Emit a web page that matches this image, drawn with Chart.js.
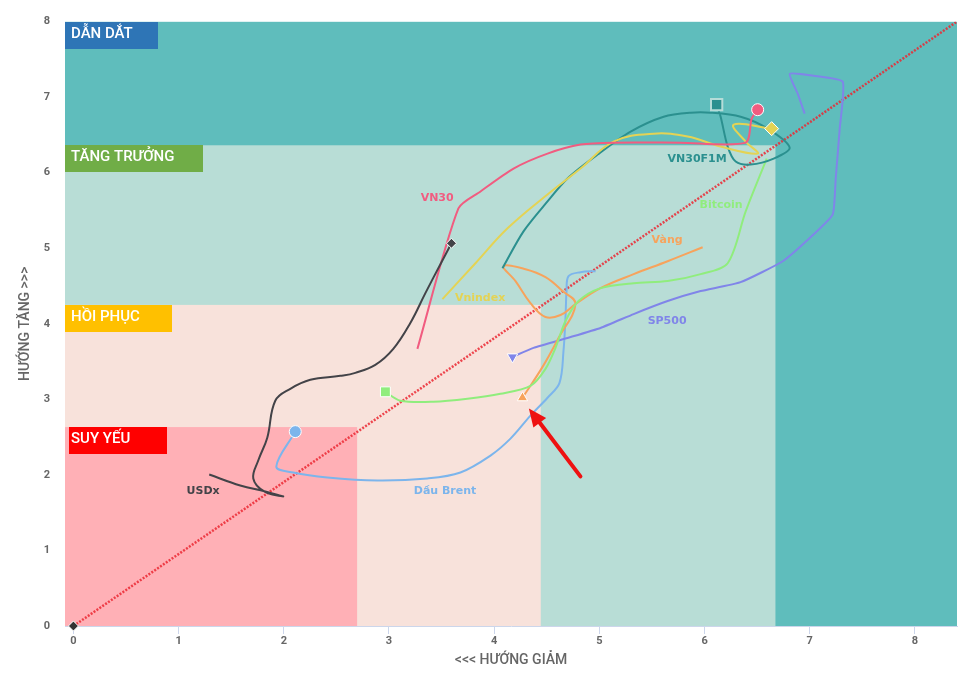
<!DOCTYPE html>
<html><head><meta charset="utf-8">
<script src="https://cdn.jsdelivr.net/npm/chart.js@4/dist/chart.umd.min.js"></script>
<style>html,body{margin:0;padding:0;background:#fff;}</style>
</head><body>
<canvas id="c" width="971" height="679" style="display:block;width:971px;height:679px"></canvas>
<script>
// ---- tick labels ----
const xTicks = [0,1,2,3,4,5,6,7,8];
const yTicks = [0,1,2,3,4,5,6,7,8];

// ---- zone thresholds (data units) ----
const zoneNames = ['DẪN DẮT','TĂNG TRƯỞNG','HỒI PHỤC','SUY YẾU'];
const zoneMaxX = [8.4, 6.674, 4.443, 2.697];
const zoneMaxY = [8, 6.363, 4.25, 2.633];

// ---- series ----
const seriesNames = ['USDx','VN30','Vnindex','VN30F1M','Bitcoin','Vàng','SP500','Dầu Brent'];

const usdxX = [1.291,1.586,1.824,1.995,1.814,1.710,1.757,1.843,1.919,2.062,2.252,2.537,2.680,2.870,3.041,3.203,3.346,3.489,3.594];
const usdxY = [2.005,1.860,1.781,1.715,1.781,1.953,2.190,2.493,2.982,3.140,3.259,3.311,3.351,3.456,3.668,4.011,4.406,4.789,5.066];

const vn30X = [3.270,3.660,3.870,4.184,4.507,4.821,5.135,5.772,6.391,6.448,6.505];
const vn30Y = [3.668,5.528,5.752,6.055,6.253,6.372,6.398,6.398,6.398,6.715,6.834];

const vnindexX = [3.508,3.822,4.127,4.507,4.821,5.135,5.516,5.839,6.153,6.505,6.391,6.277,6.638];
const vnindexY = [4.327,4.802,5.264,5.712,6.055,6.412,6.517,6.478,6.346,6.253,6.412,6.636,6.583];

const vn30f1mX = [4.079,4.279,4.507,4.697,4.983,5.297,5.611,5.868,6.058,6.343,6.600,6.809,6.657,6.438,6.296,6.220,6.153,6.115];
const vn30f1mY = [4.736,5.224,5.620,5.923,6.240,6.544,6.741,6.794,6.794,6.741,6.583,6.332,6.187,6.108,6.148,6.346,6.741,6.900];

const bitcoinX = [6.591,6.391,6.220,5.963,5.649,5.326,5.011,4.802,4.678,4.583,4.488,4.345,4.060,3.746,3.422,3.108,2.966];
const bitcoinY = [6.187,5.488,4.802,4.657,4.565,4.538,4.472,4.301,4.037,3.681,3.404,3.179,3.074,3.008,2.968,2.982,3.100];

const vangX = [5.982,5.649,5.326,5.011,4.773,4.631,4.488,4.345,4.203,4.089,4.298,4.488,4.650,4.773,4.612,4.460,4.269];
const vangY = [5.013,4.828,4.657,4.472,4.261,4.116,4.090,4.274,4.565,4.763,4.723,4.617,4.433,4.261,3.813,3.430,3.021];

const sp500X = [6.952,6.886,6.810,7.038,7.314,7.285,7.247,7.219,7.038,6.743,6.343,5.963,5.649,5.326,5.011,4.697,4.374,4.174];
const sp500Y = [6.781,7.045,7.309,7.282,7.203,6.583,5.923,5.449,5.185,4.828,4.551,4.433,4.301,4.129,3.945,3.813,3.681,3.562];

const brentX = [4.964,4.821,4.707,4.688,4.678,4.659,4.621,4.507,4.345,4.155,3.965,3.679,3.365,2.890,2.414,2.090,1.929,2.109];
const brentY = [4.697,4.683,4.631,4.433,4.077,3.641,3.219,3.021,2.784,2.480,2.256,2.032,1.953,1.926,1.966,2.032,2.111,2.573];

const diagX = [0, 8.4];
const diagY = [0, 8];

// ---- styling ----
const seriesColors = ['#434348','#f15c80','#e4d354','#2b908f','#90ed7d','#f7a35c','#8085e9','#7cb5ec'];
const seriesTension = [0.4,0.25,0.4,0.3,0.3,0.4,0.15,0.35];
const markerStyle = [
  {style:'rectRot', r:5, rot:0, border:'#ffffff', bw:1},
  {style:'circle', r:6, rot:0, border:'#ffffff', bw:1},
  {style:'rectRot', r:7, rot:0, border:'#ffffff', bw:1},
  {style:'rect', r:8, rot:0, border:'#b5dcd8', bw:2},
  {style:'rect', r:7, rot:0, border:'#ffffff', bw:1},
  {style:'triangle', r:6, rot:0, border:'#ffffff', bw:1},
  {style:'triangle', r:6, rot:180, border:'#ffffff', bw:1},
  {style:'circle', r:6, rot:0, border:'#ffffff', bw:1}
];
const labelPos = [
  {x:1.233,y:1.783},{x:3.458,y:5.667},{x:3.866,y:4.346},{x:5.929,y:6.182},
  {x:6.157,y:5.575},{x:5.644,y:5.112},{x:5.644,y:4.029},{x:3.533,y:1.783}
];
const zoneFill = ['#5fbdbc','#b8ddd6','#f8e2db','#ffb0b6'];
const zoneBoxColor = ['#2e75b6','#70ad47','#ffc000','#ff0000'];
const zoneBoxW = [93,138,107,98];
const zoneBoxDx = [0,0,0,4];
const arrowFrom = {x:4.82, y:1.98};
const arrowTo = {x:4.33, y:2.88};

const seriesX = [usdxX,vn30X,vnindexX,vn30f1mX,bitcoinX,vangX,sp500X,brentX];
const seriesY = [usdxY,vn30Y,vnindexY,vn30f1mY,bitcoinY,vangY,sp500Y,brentY];

const zip = (xs, ys) => xs.map((x,i)=>({x:x, y:ys[i]}));

const datasets = [];
datasets.push({
  label:'diag', data: zip(diagX, diagY), showLine:true, borderColor:'rgba(235,40,50,0.85)',
  borderWidth:2.5, borderDash:[2,1.5], pointRadius:0, tension:0, order:10
});
seriesNames.forEach((name,i)=>{
  const m = markerStyle[i];
  datasets.push({
    label:name, data: zip(seriesX[i], seriesY[i]), showLine:true,
    borderColor: seriesColors[i], backgroundColor: seriesColors[i], borderWidth:2, tension:seriesTension[i],
    pointStyle: m.style, rotation: m.rot,
    pointRadius: (ctx)=> ctx.dataIndex === ctx.dataset.data.length-1 ? m.r : 0,
    pointHoverRadius: (ctx)=> ctx.dataIndex === ctx.dataset.data.length-1 ? m.r : 0,
    pointBorderColor: m.border, pointBorderWidth: m.bw,
    pointBackgroundColor: seriesColors[i]
  });
});
datasets.push({
  label:'origin', data:[{x:0,y:0}], pointStyle:'rectRot', pointRadius:5, pointBackgroundColor:'#333',
  pointBorderColor:'#fff', pointBorderWidth:1, clip:false
});

const zonePlugin = {
  id:'zones',
  beforeDraw(chart){
    const {ctx, chartArea:a, scales:{x,y}} = chart;
    ctx.save();
    ctx.beginPath(); ctx.rect(a.left,a.top,a.right-a.left,a.bottom-a.top); ctx.clip();
    for(let i=0;i<zoneNames.length;i++){
      const r = x.getPixelForValue(zoneMaxX[i]);
      const t = y.getPixelForValue(zoneMaxY[i]);
      ctx.fillStyle = zoneFill[i];
      ctx.fillRect(a.left, t, r-a.left, a.bottom-t);
    }
    ctx.restore();
    ctx.save();
    for(let i=0;i<zoneNames.length;i++){
      const t = Math.round(y.getPixelForValue(zoneMaxY[i]));
      const l = a.left + zoneBoxDx[i];
      ctx.fillStyle = zoneBoxColor[i];
      ctx.fillRect(l, t, zoneBoxW[i], 27);
      ctx.fillStyle = '#ffffff';
      ctx.font = '500 15px Roboto, sans-serif';
      ctx.textBaseline = 'middle';
      ctx.textAlign = 'left';
      ctx.fillText(zoneNames[i], a.left + 6, t + 12);
    }
    ctx.restore();
  },
  afterDatasetsDraw(chart){
    const {ctx, scales:{x,y}} = chart;
    ctx.save();
    ctx.font = 'bold 11px "DejaVu Sans", sans-serif';
    ctx.textAlign = 'center'; ctx.textBaseline = 'middle';
    seriesNames.forEach((n,i)=>{
      ctx.fillStyle = seriesColors[i];
      ctx.fillText(n, x.getPixelForValue(labelPos[i].x), y.getPixelForValue(labelPos[i].y));
    });
    // arrow
    const x1 = x.getPixelForValue(arrowFrom.x), y1 = y.getPixelForValue(arrowFrom.y);
    const x2 = x.getPixelForValue(arrowTo.x), y2 = y.getPixelForValue(arrowTo.y);
    const ang = Math.atan2(y2-y1, x2-x1);
    const hl = 18, hw = 8;
    const bx = x2 - hl*Math.cos(ang), by = y2 - hl*Math.sin(ang);
    ctx.strokeStyle = '#ee1111'; ctx.fillStyle = '#ee1111'; ctx.lineWidth = 4; ctx.lineCap='round';
    ctx.beginPath(); ctx.moveTo(x1,y1); ctx.lineTo(bx,by); ctx.stroke();
    ctx.beginPath();
    ctx.moveTo(x2,y2);
    ctx.lineTo(bx + hw*Math.sin(ang), by - hw*Math.cos(ang));
    ctx.lineTo(bx - hw*Math.sin(ang), by + hw*Math.cos(ang));
    ctx.closePath(); ctx.fill();
    ctx.restore();
  }
};

new Chart(document.getElementById('c'), {
  type:'scatter',
  data:{datasets},
  plugins:[zonePlugin],
  options:{
    responsive:false, animation:false, events:[],
    layout:{padding:{top:20,right:14,left:0,bottom:0}},
    plugins:{legend:{display:false}, tooltip:{enabled:false}},
    scales:{
      x:{
        type:'linear', min:-0.08, max:8.4,
        afterBuildTicks:(s)=>{ s.ticks = xTicks.map(v=>({value:v})); },
        afterFit:(s)=>{ s.height = 53; },
        grid:{drawOnChartArea:false, drawTicks:true, tickLength:8, color:'#ccd6eb'},
        border:{display:true, color:'#ccd6eb', width:1},
        ticks:{color:'#666666', padding:1, font:{family:'Roboto, sans-serif', size:11, weight:'bold'}},
        title:{display:true, text:'<<< HƯỚNG GIẢM', color:'#666666', padding:{top:0,bottom:10},
          font:{family:'Roboto, sans-serif', size:14, weight:'500'}}
      },
      y:{
        type:'linear', min:0, max:8,
        afterBuildTicks:(s)=>{ s.ticks = yTicks.map(v=>({value:v})); },
        afterFit:(s)=>{ s.width = 65; },
        grid:{display:false, drawTicks:false},
        border:{display:false},
        ticks:{color:'#666666', padding:15, font:{family:'Roboto, sans-serif', size:11, weight:'bold'}},
        title:{display:true, text:'HƯỚNG TĂNG >>>', color:'#666666', padding:{top:17,bottom:0},
          font:{family:'Roboto, sans-serif', size:14, weight:'500'}}
      }
    }
  }
});
</script>
</body></html>
